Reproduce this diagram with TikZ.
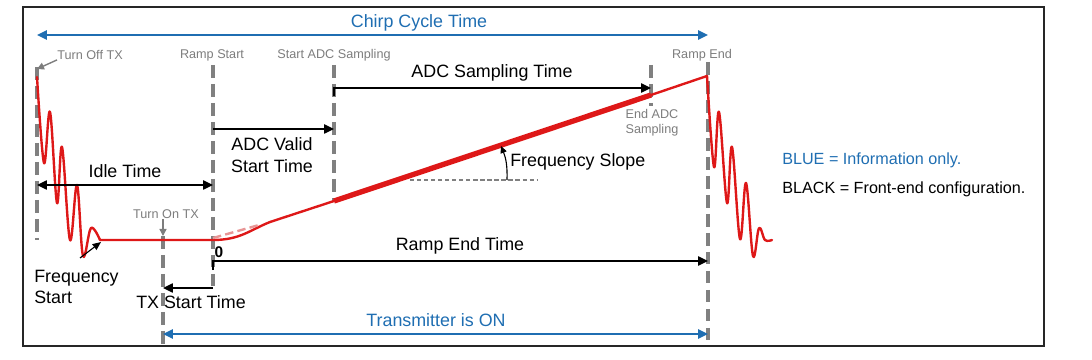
\documentclass[tikz,border=0pt]{standalone}
\usepackage{fontspec}
\setmainfont{Liberation Sans}
\usepackage{tikz}
\usetikzlibrary{calc}
\usetikzlibrary{positioning}
\usetikzlibrary{arrows.meta}

\definecolor{infoblue}{RGB}{31,110,178}
\definecolor{sigred}{RGB}{222,24,24}
\definecolor{palered}{RGB}{232,150,150}
\definecolor{guidegray}{RGB}{128,128,128}
\definecolor{labelgray}{RGB}{125,125,125}

\tikzset{
  guide/.style={draw=guidegray,line width=2.2pt,dash pattern=on 9pt off 4.5pt},
  sig/.style={draw=sigred,line width=1.7pt,line join=round,line cap=round},
  cfg/.style={draw=black,line width=1.1pt,-{Triangle[length=7pt,width=6.5pt]}},
  cfgboth/.style={draw=black,line width=1.1pt,{Triangle[length=7pt,width=6.5pt]}-{Triangle[length=7pt,width=6.5pt]}},
  info/.style={draw=infoblue,line width=1.3pt,{Triangle[length=7pt,width=6.5pt]}-{Triangle[length=7pt,width=6.5pt]}},
  pointer/.style={draw=labelgray,line width=1pt,-{Triangle[length=5pt,width=5pt]}},
  tag/.style={inner sep=0pt,anchor=center,text=labelgray,font=\fontsize{9}{10.5}\selectfont},
  txt/.style={inner sep=0pt,anchor=center,font=\fontsize{12.7}{15.5}\selectfont}
}

\begin{document}
\begin{tikzpicture}[x=0.025cm,y=-0.025cm]
        \useasboundingbox (0,0) rectangle (1092,360);
        \draw[line width=1.2pt,black!85] (23,7) rectangle (1044,346);

        % event markers
        \coordinate (offT) at (37,67);   \coordinate (offB) at (37,240);
        \coordinate (onT) at (163,236);  \coordinate (onB) at (163,346);
        \coordinate (rsT) at (213,65);   \coordinate (rsB) at (213,292);
        \coordinate (saT) at (334,65);   \coordinate (saB) at (334,201);
        \coordinate (eaT) at (651,65);   \coordinate (eaB) at (651,106);
        \coordinate (reT) at (708,62);   \coordinate (reB) at (708,346);
        \draw[guide] (offT) -- (offB);
        \draw[guide] (onT) -- (onB);
        \draw[guide] (rsT) -- (rsB);
        \draw[guide] (saT) -- (saB);
        \draw[guide] (eaT) -- (eaB);
        \draw[guide] (reT) -- (reB);

        \node[tag] (offL) at (90,55) {Turn Off TX};
        \node[tag] (rsL) at (212,55) {Ramp Start};
        \node[tag] (saL) at (334,55) {Start ADC Sampling};
        \node[tag] (reL) at (702,55) {Ramp End};
        \node[tag,align=center] (eaL) at (652,123) {End ADC\\Sampling};
        \node[tag] (onL) at (166,214) {Turn On TX};
        \coordinate (offTip) at (37,69);
        \draw[pointer] (offL.south west) -- (offTip);
        \coordinate (onTip) at (163,236);
        \draw[pointer] (onL.south -| onTip) -- (onTip);

        % chirp signal
        \draw[sig] plot[smooth,tension=0.6] coordinates {(37,77) (44,163) (50,112) (57,203) (62,147) (70,240) (77,185) (83,256) (91,228) (100,240)};
        \coordinate (flatA) at (100,240);
        \coordinate (rampA) at (270,222);
        \coordinate (rampB) at (334,201);
        \coordinate (rampC) at (651,95);
        \coordinate (rampD) at (707,76);
        \draw[sig] (flatA) -- (213,240) .. controls (240,240) and (250,230) .. (rampA) -- (rampB);
        \draw[draw=palered,line width=1.7pt,dash pattern=on 6pt off 3pt] (213,238) -- (259,225);
        \draw[sig,line width=3.8pt,line cap=butt] (rampB) -- (rampC);
        \draw[sig] (rampC) -- (rampD);
        \draw[sig] plot[smooth,tension=0.6] coordinates {(707,76) (714,167) (719,112) (727,203) (732,147) (740,239) (746,183) (753,256) (759,228) (765,240) (772,240)};

        % slope marker
        \coordinate (slA) at (410,180);
        \coordinate (slB) at (538,180);
        \draw[guidegray,line width=0.8pt,dash pattern=on 3pt off 2pt] (slA) -- (slB);
        \coordinate (arcA) at (507,180);
        \coordinate (arcB) at (501,146);
        \draw[line width=0.8pt,-{Triangle[length=5pt,width=4.5pt]}] (arcA) to[bend right=12] (arcB);
        \node[txt,anchor=west] (slope) at (510,162) {Frequency Slope};

        % front-end configuration
        \coordinate (adcA) at (334,96);  \coordinate (adcB) at (651,88);
        \draw[cfg] (adcA) |- (adcB);
        \node[txt] (adcL) at (492,73) {ADC Sampling Time};

        \coordinate (valA) at (213,129); \coordinate (valB) at (334,129);
        \draw[cfg] (valA) -- (valB);
        \node[txt,align=center] (valL) at (272,155) {ADC Valid\\Start Time};

        \coordinate (idA) at (37,185);   \coordinate (idB) at (213,185);
        \draw[cfgboth] (idA) -- (idB);
        \node[txt] (idL) at (125,171) {Idle Time};

        \coordinate (retA) at (213,270); \coordinate (retB) at (708,261);
        \draw[cfg] (retA) |- (retB);
        \node[txt] (retL) at (460,246) {Ramp End Time};
        \node[inner sep=0pt,anchor=center,font=\fontsize{11}{13}\selectfont\bfseries] (zero) at (219,252) {0};

        \coordinate (txA) at (213,288);  \coordinate (txB) at (163,288);
        \draw[cfg] (txA) -- (txB);
        \node[txt] (txL) at (191,302) {TX Start Time};

        \node[txt,align=left,anchor=west] (fsL) at (34,287) {Frequency\\Start};
        \coordinate (fsTip) at (101,242);
        \draw[line width=0.8pt,-{Triangle[length=6pt,width=5pt]}] (80,258) -- (fsTip);

        % information only
        \coordinate (ccA) at (37,35);    \coordinate (ccB) at (708,35);
        \draw[info] (ccA) -- (ccB);
        \node[txt,text=infoblue] (ccL) at (419,23) {Chirp Cycle Time};

        \coordinate (onA) at (163,334);  \coordinate (onZ) at (708,334);
        \draw[info] (onA) -- (onZ);
        \node[txt,text=infoblue] (onTxt) at (436,320) {Transmitter is ON};

        % legend
        \node[inner sep=0pt,anchor=west,text=infoblue,font=\fontsize{11.5}{14}\selectfont] (keyBlue) at (782,160) {BLUE = Information only.};
        \node[inner sep=0pt,anchor=west,font=\fontsize{11.5}{14}\selectfont] (keyBlack) at (782,189) {BLACK = Front-end configuration.};
\end{tikzpicture}
\end{document}
